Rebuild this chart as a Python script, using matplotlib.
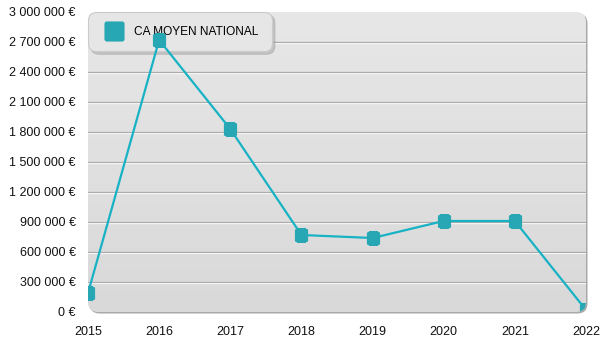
import matplotlib
matplotlib.use("Agg")
import matplotlib.pyplot as plt
import numpy as np
from matplotlib.patches import FancyBboxPatch
from matplotlib.path import Path
from matplotlib.lines import Line2D
from matplotlib.ticker import FuncFormatter, MultipleLocator
import matplotlib.transforms as mtransforms

plt.rcParams['font.family'] = ['Liberation Sans', 'DejaVu Sans']

years = [2015, 2016, 2017, 2018, 2019, 2020, 2021, 2022]
ca_moyen = [190000, 2720000, 1830000, 770000, 740000, 910000, 910000, 20000]
series_label = "CA MOYEN NATIONAL"

LINE_COLOR = "#17b2c4"
MARKER_COLOR = "#27a7b3"

W, H, DPI = 600, 350, 100
fig = plt.figure(figsize=(W / DPI, H / DPI), dpi=DPI)
left, right, top, bottom = 88, 586, 12, 312
ax = fig.add_axes([left / W, (H - bottom) / H, (right - left) / W, (bottom - top) / H])
ax.set_xlim(years[0], years[-1])
ax.set_ylim(0, 3000000)
for s in ax.spines.values():
    s.set_visible(False)

# rounded plot panel with drop shadow and vertical gradient
aspect = (right - left) / (bottom - top)
rs = 10 / (right - left)
style = f"round,pad=0,rounding_size={rs}"
shadow_tr = ax.transAxes + mtransforms.ScaledTranslation(1.5 / DPI, -1.5 / DPI, fig.dpi_scale_trans)
shadow = FancyBboxPatch((0, 0), 1, 1, boxstyle=style, mutation_aspect=aspect,
                        transform=shadow_tr, facecolor="#a9a9a9", edgecolor="none",
                        zorder=0, clip_on=False)
ax.add_patch(shadow)
panel = FancyBboxPatch((0, 0), 1, 1, boxstyle=style, mutation_aspect=aspect,
                       transform=ax.transAxes, facecolor="none", edgecolor="none",
                       zorder=0.5, clip_on=False)
ax.add_patch(panel)
grad = np.linspace(0, 1, 256).reshape(-1, 1)
cmap = matplotlib.colors.LinearSegmentedColormap.from_list("bg", ["#e7e7e7", "#d9d9d9"])
img = ax.imshow(grad, cmap=cmap, aspect="auto", extent=[0, 1, 0, 1], origin="upper",
                transform=ax.transAxes, zorder=0.6, interpolation="bilinear")
img.set_clip_path(panel)

# embossed gridlines: grey line with a white highlight just below
white_tr = ax.transData + mtransforms.ScaledTranslation(0, -1.0 / DPI, fig.dpi_scale_trans)
for yv in range(300000, 3000000, 300000):
    ax.plot([0, 1], [yv, yv], transform=mtransforms.blended_transform_factory(ax.transAxes, white_tr),
            color="white", lw=0.9, zorder=1)
    ax.axhline(yv, color="#ababab", lw=0.9, zorder=1.1)

# rounded-square marker
r = 0.25
pts = [(-1 + r, -1), (1 - r, -1), (1, -1), (1, -1 + r), (1, 1 - r), (1, 1), (1 - r, 1),
       (-1 + r, 1), (-1, 1), (-1, 1 - r), (-1, -1 + r), (-1, -1), (-1 + r, -1)]
codes = [Path.MOVETO, Path.LINETO, Path.CURVE3, Path.CURVE3, Path.LINETO, Path.CURVE3, Path.CURVE3,
         Path.LINETO, Path.CURVE3, Path.CURVE3, Path.LINETO, Path.CURVE3, Path.CURVE3]
rsq = Path(pts, codes)

line, = ax.plot(years, ca_moyen, color=LINE_COLOR, lw=1.6, zorder=3,
                marker=rsq, markersize=9.5, markerfacecolor=MARKER_COLOR,
                markeredgecolor="none", label=series_label)
line.set_clip_path(panel)

ax.yaxis.set_major_locator(MultipleLocator(300000))
ax.yaxis.set_major_formatter(FuncFormatter(lambda v, p: f"{int(v):,}".replace(",", " ") + " €"))
ax.set_xticks(years)
ax.set_xticklabels([str(y) for y in years])
ax.tick_params(axis="both", length=0, labelsize=9, colors="#111111")
ax.tick_params(axis="y", pad=9)
ax.tick_params(axis="x", pad=10)

handle = Line2D([], [], linestyle="none", marker=rsq, markersize=14.5,
                markerfacecolor=MARKER_COLOR, markeredgecolor="none")
leg = ax.legend([handle], [series_label], loc="upper left", bbox_to_anchor=(0, 1),
                fontsize=8.6, borderpad=1.15, handlelength=2.0, handletextpad=0.7,
                borderaxespad=0, frameon=True, fancybox=True,
                shadow={"color": "#9a9a9a", "alpha": 0.45})
frame = leg.get_frame()
frame.set_facecolor("#e6e6e6")
frame.set_edgecolor("#cbcbcb")
frame.set_linewidth(0.8)
frame.set_alpha(1)
frame.set_boxstyle("round", pad=0, rounding_size=0.7)
leg.set_zorder(2)

fig.savefig("out.png", dpi=DPI, facecolor="white")
